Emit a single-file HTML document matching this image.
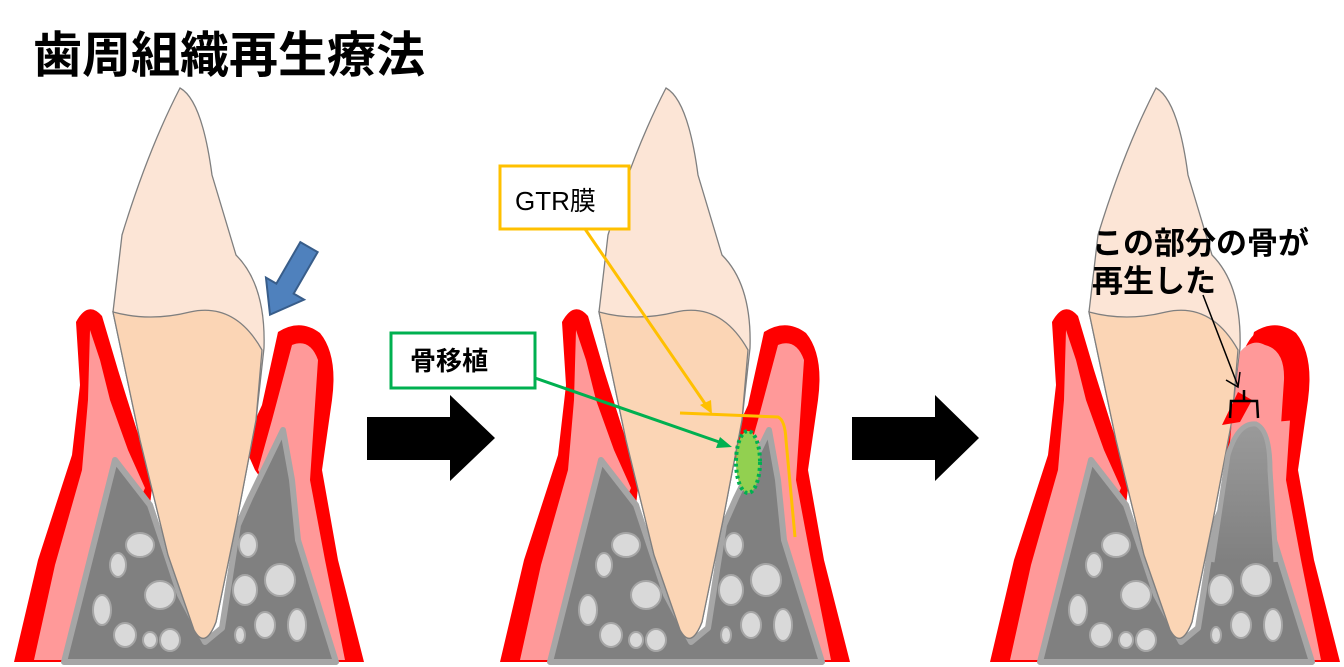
<!DOCTYPE html>
<html><head><meta charset="utf-8"><style>
html,body{margin:0;padding:0;background:#fff;width:1344px;height:667px;overflow:hidden}
svg{display:block}
text{font-family:"Liberation Sans","Noto Sans CJK JP",sans-serif}
</style></head><body>
<svg width="1344" height="667" viewBox="0 0 1344 667" xmlns="http://www.w3.org/2000/svg">
<defs>
<linearGradient id="bg" x1="0" y1="0" x2="0" y2="1"><stop offset="0" stop-color="#9a9a9a"/><stop offset="1" stop-color="#808080"/></linearGradient>
<g id="p">
 <path d="M76,322 Q88,300 102,316 L118,370 L140,440 L152,488 L150,505 L72,662 L14,662 L38,560 L72,455 L80,385 Z" fill="#ff0000"/>
 <path d="M90,330 L100,360 L110,400 L128,450 L145,488 L70,660 L34,660 L55,565 L82,470 L88,400 Z" fill="#ff9999"/>
 <path d="M278,332 Q300,318 320,333 Q338,355 332,400 L322,470 L338,560 L364,662 L336,662 L310,590 L290,520 L255,470 L244,445 L262,405 Z" fill="#ff0000"/>
 <path d="M292,345 Q310,338 318,360 L314,420 L310,480 L325,560 L345,660 L330,660 L305,590 L285,520 L258,470 L272,420 Z" fill="#ff9999"/>
 <path d="M64,662 L115,460 L150,505 L180,595 L205,642 L222,628 L238,525 L250,498 L283,430 L292,480 L298,540 L336,662 Z" fill="#808080" stroke="#a6a6a6" stroke-width="6" stroke-linejoin="round"/>
 <g fill="#d9d9d9" stroke="#a6a6a6" stroke-width="2">
  <ellipse cx="140" cy="545" rx="14" ry="12"/>
  <ellipse cx="118" cy="565" rx="8" ry="12"/>
  <ellipse cx="160" cy="595" rx="15" ry="14"/>
  <ellipse cx="102" cy="610" rx="9" ry="15"/>
  <ellipse cx="125" cy="635" rx="11" ry="12"/>
  <ellipse cx="150" cy="640" rx="7" ry="8"/>
  <ellipse cx="170" cy="640" rx="10" ry="11"/>
  <ellipse cx="248" cy="545" rx="9" ry="12"/>
  <ellipse cx="280" cy="580" rx="15" ry="16"/>
  <ellipse cx="245" cy="590" rx="12" ry="15"/>
  <ellipse cx="265" cy="625" rx="10" ry="13"/>
  <ellipse cx="297" cy="625" rx="9" ry="16"/>
  <ellipse cx="240" cy="635" rx="5" ry="8"/>
 </g>
 <path d="M113,312 L122,235 Q148,150 180,88 Q202,100 212,175 L236,255 Q266,285 264,348 L256,420 L237,520 L216,622 Q205,650 194,630 L168,555 L140,440 Z" fill="#fce5d6" stroke="#7f7f7f" stroke-width="1.3"/>
 <path d="M113,312 Q150,322 190,312 Q235,302 262,350 L256,420 L237,520 L216,622 Q205,650 194,630 L168,555 L140,440 Z" fill="#fbd5b5" stroke="#7f7f7f" stroke-width="1.3"/>
</g>
</defs>

<text x="33" y="72" font-size="49" font-weight="bold" fill="#000">歯周組織再生療法</text>

<use href="#p"/>
<use href="#p" transform="translate(486,0)"/>
<use href="#p" transform="translate(976,0)"/>

<!-- panel3 regenerated area -->
<path d="M1238,372 Q1246,330 1268,328 Q1292,338 1300,360 L1296,420 L1240,425 Z" fill="#ff0000"/>
<path d="M1240,352 Q1252,338 1265,345 Q1285,350 1284,380 L1280,440 L1282,530 L1222,530 L1232,420 Z" fill="#ff9999"/>
<path d="M1222,425 L1238,392 L1252,400 L1240,422 Z" fill="#ff0000"/>
<path d="M1212,562 L1228,455 Q1238,422 1256,424 Q1270,430 1270,470 L1276,562 Z" fill="url(#bg)"/>
<path d="M1212,562 L1228,455 Q1238,422 1256,424 Q1270,430 1270,470 L1276,562" fill="none" stroke="#a6a6a6" stroke-width="5"/>

<g transform="translate(290,280) rotate(30)">
 <path d="M-10,-38 L10,-38 L10,10 L22,10 L0,40 L-22,10 L-10,10 Z" fill="#4f81bd" stroke="#385d8a" stroke-width="2"/>
</g>

<path d="M367,417 L450,417 L450,395 L495,438 L450,481 L450,460 L367,460 Z" fill="#000"/>
<path d="M852,417 L935,417 L935,395 L979,438 L935,481 L935,460 L852,460 Z" fill="#000"/>

<ellipse cx="748" cy="462" rx="12" ry="31" fill="#92d050" stroke="#00b050" stroke-width="4" stroke-dasharray="3,3"/>
<path d="M680,413 L778,417 Q785,420 786,440 L795,537" fill="none" stroke="#ffc000" stroke-width="3"/>
<rect x="500" y="166" width="129" height="63" fill="#fff" stroke="#ffc000" stroke-width="3"/>
<text x="515" y="210" font-size="26" fill="#000">GTR膜</text>
<line x1="585" y1="229" x2="708" y2="408" stroke="#ffc000" stroke-width="3"/>
<path d="M712,414 L700,405 L711,400 Z" fill="#ffc000"/>
<rect x="391" y="333" width="144" height="55" fill="#fff" stroke="#00b050" stroke-width="3"/>
<text x="410" y="370" font-size="26" font-weight="bold" fill="#000">骨移植</text>
<line x1="535" y1="378" x2="722" y2="443" stroke="#00b050" stroke-width="3"/>
<path d="M732,447 L716,448 L720,437 Z" fill="#00b050"/>

<text x="1092" y="254" font-size="31" font-weight="bold" fill="#000">この部分の骨が</text>
<text x="1092" y="292" font-size="31" font-weight="bold" fill="#000">再生した</text>
<line x1="1203" y1="295" x2="1238" y2="386" stroke="#000" stroke-width="1.5"/>
<path d="M1226,380 L1238,387 L1240,372" fill="none" stroke="#000" stroke-width="1.5"/>
<path d="M1230,418 L1231,401 L1257,401 L1258,418" fill="none" stroke="#000" stroke-width="2.5"/>
<line x1="1244" y1="390" x2="1244" y2="401" stroke="#000" stroke-width="2.5"/>
</svg>
</body></html>
